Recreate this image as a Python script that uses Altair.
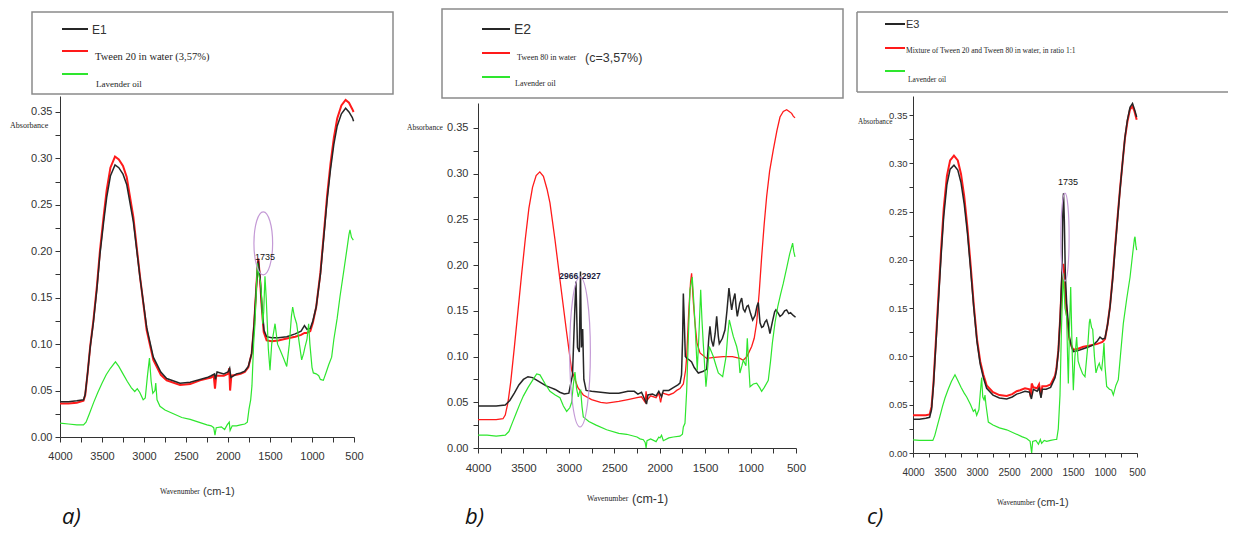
import altair as alt
import pandas as pd

# ---------------- data ----------------
# panel a
A_E1 = [(4000,0.038),(3900,0.038),(3800,0.039),(3720,0.040),(3700,0.046),(3670,0.070),(3640,0.097),(3603,0.123),(3560,0.160),(3524,0.197),(3480,0.232),(3444,0.258),(3400,0.281),(3345,0.293),(3300,0.290),(3250,0.283),(3206,0.272),(3127,0.232),(3048,0.172),(2968,0.118),(2889,0.086),(2800,0.070),(2730,0.063),(2571,0.058),(2450,0.059),(2333,0.062),(2250,0.064),(2200,0.066),(2160,0.068),(2150,0.062),(2130,0.070),(2050,0.068),(2000,0.070),(1980,0.074),(1965,0.064),(1900,0.068),(1850,0.069),(1800,0.071),(1758,0.076),(1718,0.090),(1690,0.120),(1667,0.155),(1647,0.183),(1639,0.190),(1619,0.173),(1599,0.144),(1571,0.115),(1540,0.108),(1480,0.107),(1400,0.107),(1300,0.108),(1200,0.111),(1130,0.114),(1090,0.120),(1060,0.116),(1020,0.117),(990,0.125),(950,0.140),(900,0.175),(860,0.215),(820,0.255),(780,0.288),(740,0.315),(700,0.335),(650,0.348),(600,0.354),(560,0.350),(520,0.344),(505,0.340)]
A_TW20 = [(4000,0.036),(3900,0.036),(3800,0.037),(3720,0.039),(3700,0.045),(3670,0.070),(3640,0.098),(3603,0.125),(3560,0.163),(3524,0.201),(3480,0.238),(3444,0.266),(3400,0.290),(3345,0.302),(3300,0.299),(3250,0.292),(3206,0.280),(3127,0.237),(3048,0.173),(2968,0.115),(2889,0.083),(2800,0.067),(2730,0.061),(2571,0.056),(2450,0.057),(2333,0.061),(2250,0.063),(2200,0.064),(2170,0.066),(2155,0.052),(2140,0.066),(2050,0.066),(2000,0.068),(1985,0.074),(1975,0.050),(1960,0.066),(1900,0.067),(1850,0.068),(1800,0.070),(1758,0.075),(1718,0.090),(1690,0.120),(1667,0.155),(1647,0.185),(1639,0.192),(1620,0.172),(1600,0.142),(1575,0.113),(1540,0.104),(1480,0.103),(1400,0.104),(1300,0.106),(1200,0.108),(1130,0.110),(1090,0.112),(1060,0.112),(1020,0.114),(990,0.123),(950,0.140),(900,0.177),(860,0.218),(820,0.260),(780,0.294),(740,0.322),(700,0.343),(650,0.357),(600,0.363),(560,0.360),(520,0.353),(505,0.350)]
A_LAV = [(4000,0.015),(3900,0.014),(3800,0.013),(3720,0.013),(3690,0.016),(3650,0.025),(3600,0.037),(3550,0.048),(3500,0.058),(3450,0.067),(3400,0.074),(3340,0.081),(3300,0.076),(3250,0.068),(3200,0.060),(3150,0.053),(3110,0.049),(3080,0.052),(3050,0.048),(3010,0.040),(2985,0.042),(2960,0.065),(2935,0.085),(2915,0.060),(2895,0.047),(2870,0.050),(2860,0.058),(2845,0.040),(2810,0.033),(2750,0.029),(2650,0.025),(2550,0.021),(2450,0.019),(2350,0.016),(2250,0.013),(2200,0.012),(2170,0.010),(2155,0.002),(2140,0.010),(2080,0.011),(2040,0.008),(2010,0.013),(1985,0.016),(1975,0.007),(1950,0.012),(1900,0.012),(1850,0.013),(1800,0.014),(1770,0.016),(1750,0.030),(1730,0.040),(1715,0.055),(1695,0.100),(1679,0.122),(1660,0.165),(1651,0.187),(1635,0.175),(1615,0.168),(1599,0.150),(1587,0.122),(1575,0.135),(1560,0.173),(1545,0.150),(1520,0.095),(1500,0.072),(1480,0.100),(1440,0.122),(1410,0.100),(1381,0.094),(1340,0.085),(1301,0.076),(1270,0.100),(1245,0.130),(1230,0.140),(1210,0.130),(1183,0.122),(1150,0.100),(1123,0.083),(1100,0.090),(1083,0.097),(1060,0.105),(1040,0.122),(1025,0.100),(1000,0.075),(984,0.069),(950,0.068),(920,0.066),(900,0.062),(865,0.061),(830,0.070),(800,0.078),(766,0.086),(740,0.105),(700,0.128),(667,0.151),(620,0.180),(580,0.205),(560,0.218),(548,0.223),(530,0.215),(508,0.212)]

# panel b
B_E2 = [(4000,0.046),(3900,0.046),(3800,0.046),(3700,0.047),(3650,0.052),(3600,0.060),(3550,0.069),(3500,0.075),(3450,0.078),(3400,0.077),(3350,0.074),(3300,0.071),(3250,0.068),(3200,0.066),(3150,0.064),(3100,0.061),(3050,0.059),(3000,0.060),(2960,0.080),(2935,0.150),(2922,0.182),(2905,0.110),(2885,0.105),(2872,0.193),(2862,0.110),(2848,0.130),(2835,0.075),(2810,0.063),(2750,0.062),(2650,0.061),(2550,0.060),(2450,0.060),(2350,0.062),(2280,0.062),(2240,0.059),(2200,0.061),(2160,0.052),(2145,0.048),(2130,0.058),(2080,0.059),(2040,0.057),(2010,0.062),(1980,0.056),(1960,0.063),(1900,0.063),(1850,0.066),(1800,0.069),(1777,0.071),(1760,0.080),(1748,0.120),(1740,0.169),(1730,0.140),(1718,0.100),(1700,0.098),(1670,0.096),(1649,0.094),(1620,0.088),(1575,0.082),(1520,0.084),(1483,0.086),(1460,0.120),(1447,0.133),(1430,0.118),(1410,0.111),(1390,0.125),(1373,0.144),(1355,0.122),(1344,0.114),(1310,0.120),(1282,0.129),(1260,0.150),(1238,0.175),(1220,0.160),(1208,0.151),(1190,0.162),(1172,0.169),(1160,0.155),(1146,0.144),(1120,0.158),(1098,0.164),(1080,0.152),(1062,0.149),(1040,0.155),(1025,0.156),(1000,0.147),(977,0.140),(950,0.145),(930,0.155),(915,0.159),(896,0.137),(878,0.132),(860,0.133),(840,0.138),(823,0.140),(800,0.132),(787,0.125),(760,0.138),(735,0.149),(721,0.151),(700,0.148),(676,0.144),(650,0.146),(625,0.150),(603,0.151),(580,0.147),(560,0.148),(530,0.145),(505,0.143)]
B_TW80 = [(4000,0.031),(3900,0.031),(3800,0.031),(3725,0.032),(3700,0.036),(3670,0.050),(3640,0.072),(3600,0.110),(3560,0.150),(3520,0.190),(3480,0.228),(3440,0.262),(3400,0.285),(3360,0.298),(3320,0.302),(3280,0.297),(3240,0.283),(3208,0.268),(3153,0.228),(3098,0.184),(3024,0.126),(2969,0.085),(2900,0.066),(2841,0.058),(2750,0.053),(2650,0.050),(2584,0.049),(2450,0.051),(2350,0.053),(2250,0.055),(2200,0.056),(2160,0.050),(2150,0.062),(2140,0.052),(2100,0.057),(2040,0.055),(2010,0.060),(1990,0.050),(1970,0.060),(1900,0.058),(1850,0.060),(1813,0.063),(1777,0.065),(1740,0.070),(1715,0.085),(1703,0.100),(1680,0.150),(1660,0.182),(1649,0.191),(1630,0.160),(1612,0.137),(1590,0.115),(1557,0.104),(1483,0.098),(1400,0.099),(1300,0.100),(1200,0.100),(1117,0.098),(1080,0.096),(1040,0.100),(988,0.111),(960,0.120),(933,0.137),(905,0.170),(878,0.209),(850,0.245),(823,0.275),(790,0.303),(750,0.326),(710,0.347),(676,0.362),(640,0.368),(603,0.370),(575,0.368),(548,0.366),(530,0.363),(511,0.361)]
B_LAV = [(4000,0.014),(3900,0.014),(3800,0.013),(3700,0.014),(3660,0.018),(3620,0.028),(3580,0.038),(3540,0.048),(3500,0.057),(3450,0.066),(3400,0.074),(3354,0.081),(3318,0.080),(3260,0.070),(3208,0.062),(3150,0.058),(3098,0.055),(3060,0.046),(3024,0.040),(2990,0.044),(2969,0.050),(2950,0.070),(2933,0.083),(2915,0.065),(2896,0.056),(2880,0.062),(2870,0.063),(2855,0.045),(2841,0.034),(2780,0.029),(2700,0.025),(2584,0.020),(2450,0.016),(2364,0.015),(2250,0.012),(2217,0.010),(2180,0.009),(2160,0.006),(2150,0.000),(2140,0.008),(2100,0.010),(2040,0.007),(2010,0.012),(1997,0.011),(1980,0.014),(1960,0.008),(1900,0.011),(1850,0.012),(1777,0.013),(1750,0.015),(1740,0.023),(1722,0.027),(1703,0.063),(1685,0.120),(1667,0.173),(1642,0.187),(1625,0.160),(1612,0.137),(1587,0.085),(1570,0.120),(1549,0.173),(1535,0.140),(1521,0.115),(1491,0.067),(1470,0.090),(1455,0.111),(1430,0.105),(1410,0.100),(1380,0.090),(1355,0.082),(1307,0.078),(1270,0.100),(1250,0.125),(1234,0.140),(1210,0.130),(1190,0.122),(1153,0.111),(1130,0.100),(1117,0.082),(1095,0.090),(1080,0.096),(1051,0.090),(1036,0.120),(1020,0.090),(1006,0.067),(970,0.070),(933,0.071),(900,0.066),(878,0.062),(850,0.066),(805,0.074),(780,0.095),(760,0.115),(731,0.137),(700,0.155),(670,0.168),(640,0.180),(600,0.198),(570,0.212),(537,0.224),(525,0.215),(511,0.209)]

# panel c
C_E3 = [(4000,0.035),(3900,0.035),(3800,0.036),(3740,0.037),(3710,0.045),(3680,0.070),(3640,0.115),(3600,0.160),(3560,0.205),(3520,0.245),(3470,0.278),(3420,0.294),(3360,0.298),(3300,0.293),(3250,0.280),(3200,0.258),(3150,0.228),(3100,0.190),(3050,0.150),(3000,0.115),(2950,0.092),(2900,0.078),(2849,0.067),(2750,0.060),(2650,0.057),(2536,0.056),(2450,0.058),(2380,0.061),(2328,0.062),(2250,0.064),(2180,0.063),(2150,0.056),(2120,0.066),(2060,0.064),(2030,0.067),(2000,0.057),(1980,0.066),(1920,0.066),(1850,0.068),(1781,0.078),(1760,0.085),(1729,0.105),(1700,0.140),(1672,0.190),(1656,0.262),(1648,0.269),(1635,0.240),(1620,0.185),(1599,0.155),(1557,0.120),(1520,0.110),(1495,0.105),(1420,0.106),(1339,0.108),(1250,0.110),(1183,0.112),(1120,0.116),(1078,0.120),(1040,0.118),(1000,0.119),(960,0.133),(922,0.151),(880,0.180),(844,0.210),(800,0.245),(766,0.272),(720,0.305),(688,0.327),(650,0.345),(609,0.358),(570,0.362),(540,0.356),(505,0.348)]
C_MIX = [(4000,0.039),(3900,0.039),(3800,0.039),(3740,0.040),(3710,0.048),(3680,0.073),(3640,0.119),(3600,0.166),(3560,0.212),(3520,0.253),(3470,0.287),(3420,0.303),(3360,0.308),(3300,0.303),(3250,0.289),(3200,0.266),(3150,0.234),(3100,0.195),(3050,0.153),(3000,0.118),(2950,0.095),(2900,0.081),(2849,0.070),(2750,0.063),(2650,0.060),(2536,0.059),(2450,0.061),(2380,0.064),(2328,0.065),(2250,0.067),(2180,0.066),(2160,0.058),(2145,0.072),(2120,0.068),(2060,0.067),(2030,0.071),(2000,0.060),(1980,0.069),(1920,0.069),(1850,0.071),(1781,0.080),(1760,0.087),(1729,0.106),(1700,0.140),(1672,0.180),(1652,0.196),(1635,0.185),(1620,0.165),(1599,0.145),(1557,0.118),(1520,0.110),(1495,0.107),(1420,0.108),(1339,0.110),(1250,0.111),(1183,0.112),(1120,0.113),(1078,0.114),(1040,0.115),(1000,0.118),(960,0.133),(922,0.152),(880,0.182),(844,0.212),(800,0.247),(766,0.273),(720,0.305),(688,0.326),(650,0.343),(609,0.356),(570,0.359),(540,0.354),(505,0.345)]
C_LAV = [(4000,0.0135),(3900,0.013),(3800,0.013),(3690,0.013),(3660,0.018),(3620,0.028),(3580,0.038),(3540,0.048),(3500,0.057),(3450,0.066),(3400,0.074),(3344,0.081),(3300,0.075),(3250,0.068),(3200,0.062),(3161,0.058),(3100,0.050),(3057,0.043),(3030,0.045),(3005,0.039),(2970,0.045),(2945,0.065),(2927,0.078),(2910,0.058),(2890,0.055),(2875,0.060),(2860,0.050),(2823,0.032),(2750,0.029),(2650,0.026),(2536,0.024),(2400,0.020),(2300,0.017),(2224,0.015),(2170,0.012),(2146,0.000),(2130,0.012),(2080,0.013),(2040,0.009),(2010,0.014),(1990,0.010),(1950,0.013),(1911,0.012),(1850,0.013),(1780,0.014),(1755,0.014),(1730,0.025),(1703,0.060),(1680,0.130),(1652,0.186),(1625,0.150),(1599,0.141),(1585,0.100),(1573,0.072),(1555,0.130),(1536,0.172),(1515,0.110),(1495,0.065),(1470,0.100),(1443,0.120),(1420,0.095),(1391,0.089),(1350,0.082),(1313,0.079),(1270,0.110),(1245,0.135),(1234,0.139),(1210,0.130),(1192,0.128),(1165,0.100),(1141,0.083),(1110,0.090),(1089,0.093),(1070,0.088),(1052,0.086),(1030,0.100),(1016,0.114),(1000,0.090),(974,0.069),(930,0.066),(896,0.065),(870,0.060),(830,0.070),(792,0.076),(760,0.100),(714,0.134),(660,0.160),(609,0.182),(570,0.205),(540,0.222),(531,0.224),(518,0.215),(505,0.210)]

# annotations (wavenumber, absorbance)
ELL_A = [(1580, 0.2086)]
ELL_B = [(2877, 0.105)]
ELL_C = [(1625, 0.2236)]
LAB_A = [(1560, 0.194, "1735")]
LAB_B = [(3002, 0.188, "2966"), (2753, 0.188, "2927")]
LAB_C = [(1578, 0.2805, "1735")]

X_TICKS = list(range(4000, 499, -250))
Y_TICKS = [round(i * 0.025, 3) for i in range(15)]

# ---------------- styling ----------------
NARROW = "Liberation Sans Narrow, Liberation Sans, Arial, sans-serif"
SANS = "Liberation Sans, Arial, sans-serif"
SERIF = "Liberation Serif, Times New Roman, serif"
ITAL = "Open Sans, Liberation Sans, sans-serif"
BLACK = "#262626"
RED = "#ff1a1a"
GREEN = "#2ee62e"
PURPLE = "#c49ad6"
BORDER = "#8a8a8a"

ONE = pd.DataFrame({"k": [0]})


def df(pairs):
    return pd.DataFrame(pairs, columns=["wn", "A"])


def ellipse_path(r):
    k = 0.5523
    return (f"M0,-1 C{k*r:.4f},-1 {r:.4f},{-k:.4f} {r:.4f},0 "
            f"C{r:.4f},{k:.4f} {k*r:.4f},1 0,1 "
            f"C{-k*r:.4f},1 {-r:.4f},{k:.4f} {-r:.4f},0 "
            f"C{-r:.4f},{-k:.4f} {-k*r:.4f},-1 0,-1 Z")


def txt(x, y, s, size, font=SERIF, color="#1e1e1e", style="normal", weight="normal"):
    return alt.Chart(ONE).mark_text(text=s, align="left", baseline="middle", font=font,
                                    fontSize=size, color=color, fontStyle=style,
                                    fontWeight=weight).encode(x=alt.value(x), y=alt.value(y))


def hline(x1, x2, y, color, w=2.0):
    return alt.Chart(ONE).mark_rule(color=color, strokeWidth=w).encode(
        x=alt.value(x1), x2=alt.value(x2), y=alt.value(y))


def vline(x, y1, y2, color, w=1.5):
    return alt.Chart(ONE).mark_rule(color=color, strokeWidth=w).encode(
        x=alt.value(x), y=alt.value(y1), y2=alt.value(y2))


def box(x1, x2, y1, y2):
    return alt.Chart(ONE).mark_rect(fill="white", stroke=BORDER, strokeWidth=1.5).encode(
        x=alt.value(x1), x2=alt.value(x2), y=alt.value(y1), y2=alt.value(y2))


def panel(series, p, ell, labs, deco):
    xs = alt.Scale(domain=[4000, 500], range=[0, p["xr"]], nice=False, zero=False)
    ys = alt.Scale(domain=[0, p["ymax"]], range=[p["y0"], p["ytop"]], nice=False, zero=False)
    xax = alt.Axis(values=X_TICKS, title=None, grid=False, tickSize=p["xtick"],
                   labelExpr="datum.value % 500 === 0 ? format(datum.value, 'd') : ''",
                   labelPadding=p["xpad"], labelFont=NARROW, labelFontSize=p["xfs"],
                   labelColor="#333", tickColor="#333", domainColor="#333",
                   labelFlush=False, labelOverlap=False)
    yax = alt.Axis(values=Y_TICKS, title=None, grid=False, tickSize=p["ytick"],
                   labelExpr="round(datum.value * 1000) % 50 === 0 ? format(datum.value, '.2f') : ''",
                   labelPadding=p["ypad"], labelFont=NARROW, labelFontSize=p["yfs"],
                   labelColor="#333", tickColor="#333", domainColor="#333",
                   labelFlush=False, labelOverlap=False)
    X = alt.X("wn:Q", scale=xs, axis=xax)
    Y = alt.Y("A:Q", scale=ys, axis=yax)
    layers = []
    for data, color, w in series:
        layers.append(alt.Chart(df(data)).mark_line(color=color, strokeWidth=w).encode(x=X, y=Y))
    edf = pd.DataFrame(ell, columns=["wn", "A"])
    layers.append(alt.Chart(edf).mark_point(shape=ellipse_path(p["er"]), size=p["eh"] ** 2,
                                            color=PURPLE, strokeWidth=1.2, opacity=1,
                                            filled=False).encode(x=X, y=Y))
    ldf = pd.DataFrame(labs, columns=["wn", "A", "t"])
    layers.append(alt.Chart(ldf).mark_text(font=NARROW, fontSize=p["lfs"], color=p["lcol"],
                                           fontWeight=p["lw"]).encode(x=X, y=Y, text="t:N"))
    layers += deco
    return alt.layer(*layers).properties(width=p["w"], height=p["h"])


PA = dict(w=298, xr=294, h=341, y0=341, ytop=0, ymax=0.3672, xtick=5, xpad=8, xfs=11,
          ytick=5, ypad=3, yfs=11, er=0.297, eh=63, lfs=9, lcol="#111", lw="normal")
PB = dict(w=315, xr=318, h=352, y0=352, ytop=7, ymax=0.3773, xtick=5, xpad=9, xfs=11.5,
          ytick=5, ypad=5, yfs=11, er=0.138, eh=150, lfs=8.5, lcol="#1c1c40", lw="bold")
PC = dict(w=224, xr=224, h=357, y0=357, ytop=0, ymax=0.3697, xtick=4, xpad=10, xfs=10,
          ytick=4, ypad=2, yfs=9.5, er=0.094, eh=88, lfs=9, lcol="#111", lw="normal")

LY = 421  # baseline row of the a) b) c) captions (relative to panel top)

DECO_A = [
    box(-28, 333, -84, -2),
    hline(2, 28, -67, BLACK), txt(32, -66, "E1", 12, SANS, "#333"),
    hline(2, 28, -45, RED), txt(35, -39, "Tween 20 in water (3,57%)", 10.5),
    hline(2, 28, -22, GREEN), txt(36, -12, "Lavender oil", 9),
    txt(-50, 30, "Absorbance", 8),
    txt(100, 396, "Wavenumber", 7.5), txt(143, 396, "(cm-1)", 11, SANS, "#333"),
    txt(2, LY, "a)", 22, ITAL, "#111", "italic"),
]
DECO_B = [
    box(-36, 365, -87, 2),
    hline(4, 32, -67, BLACK), txt(36, -66, "E2", 14, SANS, "#333"),
    hline(4, 32, -43, RED), txt(39, -38, "Tween 80 in water", 8),
    txt(107, -38, "(c=3,57%)", 12.5, SANS, "#333"),
    hline(4, 32, -19, GREEN), txt(37, -12, "Lavender oil", 8),
    txt(-71, 32, "Absorbance", 7.5),
    txt(109, 403, "Wavenumber", 7.8), txt(154, 403, "(cm-1)", 12.5, SANS, "#333"),
    txt(-13, LY, "b)", 22, ITAL, "#111", "italic"),
]
DECO_C = [
    hline(-56, 315, -84, BORDER, 1.5), hline(-56, 315, -4, BORDER, 1.5), vline(-56, -84, -4, BORDER, 1.5),
    hline(-28, -8, -72, BLACK), txt(-7, -71, "E3", 11, SANS, "#333"),
    hline(-28, -8, -48, RED), txt(-7, -45, "Mixture of Tween 20 and Tween 80 in water, in ratio 1:1", 7.5),
    hline(-28, -8, -25, GREEN), txt(-5, -16, "Lavender oil", 7.5),
    txt(-55, 26, "Absorbance", 7.2),
    txt(84, 407, "Wavenumber", 7.2), txt(124, 407, "(cm-1)", 11, SANS, "#333"),
    txt(-46, LY, "c)", 22, ITAL, "#111", "italic"),
]

pa = panel([(A_TW20, RED, 2.0), (A_E1, BLACK, 1.5), (A_LAV, GREEN, 1.2)], PA, ELL_A, LAB_A, DECO_A)
pb = panel([(B_TW80, RED, 1.3), (B_E2, BLACK, 1.5), (B_LAV, GREEN, 1.2)], PB, ELL_B, LAB_B, DECO_B)
pc = panel([(C_MIX, RED, 2.0), (C_E3, BLACK, 1.5), (C_LAV, GREEN, 1.2)], PC, ELL_C, LAB_C, DECO_C)

chart = alt.hconcat(pa, pb, pc, spacing=120, bounds="flush").properties(
    padding={"left": 2, "top": 0, "right": 0, "bottom": 6}
).configure_view(strokeWidth=0)

chart.save("out.html", embed_options={"renderer": "svg", "actions": False})
